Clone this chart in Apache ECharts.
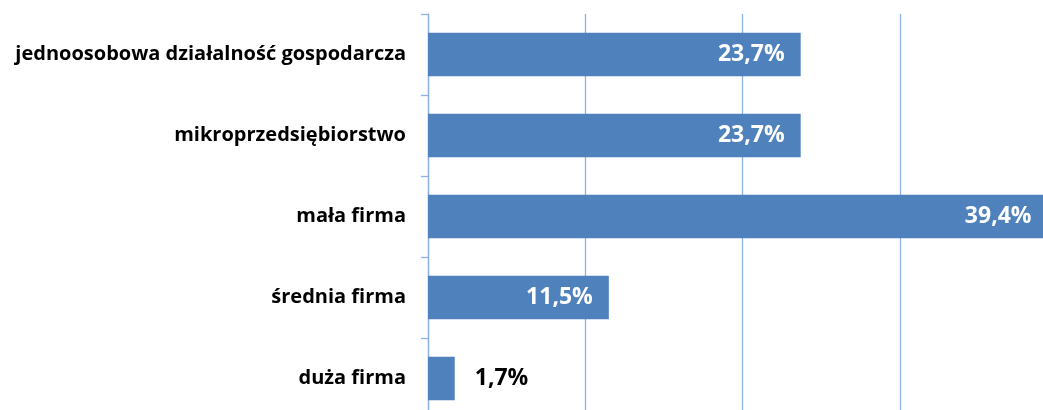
<!DOCTYPE html>
<html><head><meta charset="utf-8">
<script src="https://cdn.jsdelivr.net/npm/echarts@6/dist/echarts.min.js"></script>
<style>html,body{margin:0;padding:0;background:#fff}#c{width:1043px;height:410px}</style>
</head><body><div id="c"></div>
<script>
const categories = ['jednoosobowa działalność gospodarcza','mikroprzedsiębiorstwo','mała firma','średnia firma','duża firma'];
const values = [23.7, 23.7, 39.4, 11.5, 1.7];
const fmt = v => v.toFixed(1).replace('.', ',') + '%';
const chart = echarts.init(document.getElementById('c'), null, {renderer:'canvas'});
chart.setOption({
  animation:false,
  grid:{left:428, top:14, width:629, height:405, containLabel:false, outerBoundsMode:'none'},
  xAxis:{type:'value', min:0, max:40, interval:10,
    axisLine:{show:false}, axisTick:{show:false}, axisLabel:{show:false},
    splitLine:{show:true, lineStyle:{color:'#8db3e2', width:1.3}}},
  yAxis:{type:'category', data:categories, inverse:true,
    axisLine:{show:true, lineStyle:{color:'#8db3e2', width:1.3}},
    axisTick:{show:true, length:7, alignWithLabel:false, lineStyle:{color:'#8db3e2', width:1.3}},
    axisLabel:{color:'#000', fontFamily:'Open Sans', fontWeight:'bold', fontSize:20, margin:22}},
  series:[{type:'bar', data:values.map(v=>({value:v, label: v<5 ? {position:'right', distance:20, color:'#000'} : {}})),
    barCategoryGap:'46%',
    itemStyle:{color:'#4f81bd'},
    label:{show:true, position:'insideRight', distance:16, color:'#fff', fontFamily:'Open Sans', fontWeight:'bold', fontSize:23,
      formatter:p=>fmt(p.value)}}]
});
</script></body></html>
